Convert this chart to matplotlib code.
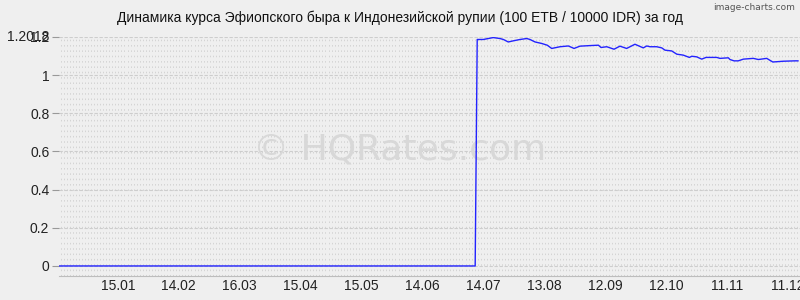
import matplotlib
matplotlib.use("Agg")
import matplotlib.pyplot as plt
import matplotlib.transforms as mtransforms
import numpy as np

plt.rcParams['font.family'] = ['Liberation Sans', 'DejaVu Sans']

title = "Динамика курса Эфиопского быра к Индонезийской рупии (100 ETB / 10000 IDR) за год"

# day index within the year -> rate
days = [0, 205, 206, 209, 213.9, 217.2, 218.9, 221.3, 223.8, 227.1, 230.4, 232, 234.5,
        237.8, 240.5, 242.7, 246.8, 250.9, 253.7, 256.6, 261.6, 265.7, 267, 269.8,
        273.4, 276.3, 279.6, 283.7, 287.8, 289.5, 291.1, 294.4, 296.9, 298.5, 301.8,
        304.3, 307.5, 310.5, 311.7, 314.1, 316.6, 318.7, 324, 325.6, 329.7, 330.5,
        332.5, 334.6, 337.1, 342, 344.5, 348.6, 351.6, 356.8, 362.5, 364]
rates = [0, 0, 1.187, 1.187, 1.197, 1.192, 1.187, 1.174, 1.180, 1.187, 1.192, 1.187,
         1.174, 1.166, 1.157, 1.140, 1.149, 1.153, 1.140, 1.152, 1.155, 1.157, 1.145,
         1.149, 1.136, 1.152, 1.140, 1.162, 1.143, 1.153, 1.149, 1.149, 1.143, 1.131,
         1.127, 1.110, 1.105, 1.093, 1.099, 1.096, 1.084, 1.093, 1.093, 1.088, 1.091,
         1.082, 1.075, 1.075, 1.084, 1.088, 1.082, 1.088, 1.069, 1.073, 1.075, 1.075]

tick_days = [29, 59, 89, 119, 149, 179, 209, 239, 269, 299, 329, 359]
tick_labels = ["15.01", "14.02", "16.03", "15.04", "15.05", "14.06",
               "14.07", "13.08", "12.09", "12.10", "11.11", "11.12"]
y_ticks = [0, 0.2, 0.4, 0.6, 0.8, 1, 1.2]
y_labels = ["0", "0.2", "0.4", "0.6", "0.8", "1", "1.2"]
y_extra_label = "1.2018"

bg = "#efefef"
fig = plt.figure(figsize=(8, 3), dpi=100, facecolor=bg)
ax = fig.add_axes([59 / 800, 24.5 / 300, 741 / 800, 238.5 / 300], facecolor=bg)

ax.set_xlim(0, 365)
ax.set_ylim(-0.05, 1.2)

# dense vertical dashed grid
ax.vlines(np.arange(0.75, 365, 1.5), -0.05, 1.2, colors="#d4d4d4",
          linewidth=0.7, linestyles=(0, (1.6, 3.9)), zorder=0)
# horizontal dashed grid
for yv in y_ticks:
    ax.axhline(yv, color="#cdcdcd", linewidth=0.8, linestyle=(0, (3, 1.5)), zorder=0.5)

ax.plot(days, rates, color="#2323ff", linewidth=1.0, zorder=3)

for s in ["top", "right", "left"]:
    ax.spines[s].set_visible(False)
ax.spines["bottom"].set_color("#bdbdbd")
ax.spines["bottom"].set_linestyle((0, (1, 1)))
ax.spines["bottom"].set_linewidth(0.8)

ax.set_xticks(tick_days)
ax.set_xticklabels(tick_labels)
ax.set_yticks(y_ticks)
ax.set_yticklabels(y_labels)
ax.tick_params(axis="x", length=0, pad=2.5, labelsize=10, labelcolor="#222222")
ax.tick_params(axis="y", length=5, pad=2, color="#999999", labelsize=10,
               labelcolor="#222222")
for lbl in ax.get_xticklabels():
    lbl.set_clip_on(False)

trans = mtransforms.blended_transform_factory(fig.transFigure, ax.transData)
ax.text(7 / 800, 1.2, y_extra_label, transform=trans, ha="left", va="center",
        fontsize=10, color="#222222")

fig.text(0.5, 1 - 18 / 300, title, ha="center", va="center", fontsize=10,
         color="#111111")
fig.text(795 / 800, 1 - 8 / 300, "image-charts.com", ha="right", va="center",
         fontsize=6.5, color="#555555", family="DejaVu Sans")

# watermark
ax.text(0.5, 0.5, "© HQRates.com", transform=fig.transFigure, ha="center",
        va="center", fontsize=26, color="#d8d8d8", family="DejaVu Sans", zorder=1)

fig.savefig("out.png", dpi=100, facecolor=bg)
